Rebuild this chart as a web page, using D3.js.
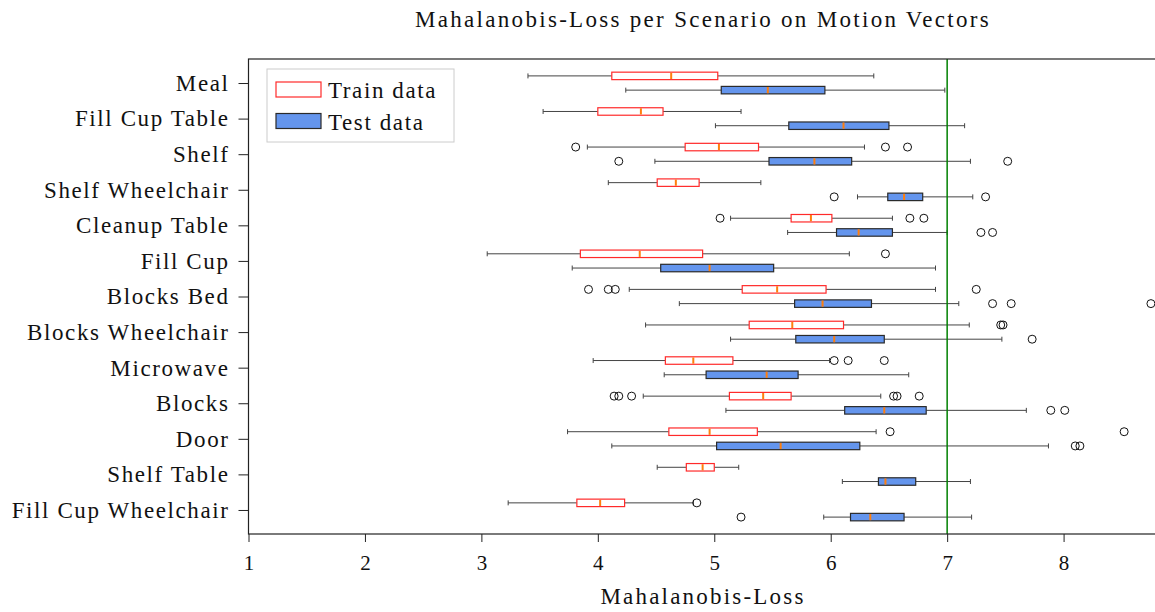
<!DOCTYPE html>
<html lang="en">
<head>
  <meta charset="UTF-8">
  <title>Mahalanobis-Loss per Scenario</title>
  <script src="https://d3js.org/d3.v7.min.js"></script>
  <style>
    body {
      margin: 0;
      background: #ffffff;
    }
    svg text {
      font-family: "Liberation Serif", "DejaVu Serif", serif;
      fill: #111;
    }
  </style>
</head>
<body>
  <div id="chart"></div>

  <script>
    const categories = ["Meal", "Fill Cup Table", "Shelf", "Shelf Wheelchair", "Cleanup Table", "Fill Cup",
      "Blocks Bed", "Blocks Wheelchair", "Microwave", "Blocks", "Door", "Shelf Table", "Fill Cup Wheelchair"];

    // [lower whisker, q1, median, q3, upper whisker]
    const trainStats = [
      [3.40, 4.12, 4.63, 5.03, 6.37],
      [3.53, 4.00, 4.37, 4.56, 5.23],
      [3.91, 4.75, 5.04, 5.38, 6.29],
      [4.09, 4.51, 4.67, 4.87, 5.40],
      [5.14, 5.66, 5.83, 6.01, 6.53],
      [3.05, 3.85, 4.36, 4.90, 6.16],
      [4.27, 5.24, 5.54, 5.96, 6.90],
      [4.41, 5.30, 5.67, 6.11, 7.19],
      [3.96, 4.58, 4.82, 5.16, 5.99],
      [4.39, 5.13, 5.42, 5.66, 6.43],
      [3.74, 4.61, 4.96, 5.37, 6.39],
      [4.51, 4.76, 4.90, 5.00, 5.21],
      [3.23, 3.82, 4.02, 4.23, 4.82]
    ];
    const trainOutliers = [
      [],
      [],
      [3.81, 6.47, 6.66],
      [],
      [5.05, 6.68, 6.80],
      [6.47],
      [3.92, 4.09, 4.15, 7.25],
      [7.46, 7.48],
      [6.03, 6.15, 6.46],
      [4.14, 4.18, 4.29, 6.54, 6.57, 6.76],
      [6.51, 8.52],
      [],
      [4.85]
    ];

    const testStats = [
      [4.24, 5.06, 5.46, 5.95, 6.98],
      [5.01, 5.64, 6.11, 6.50, 7.15],
      [4.49, 5.47, 5.86, 6.18, 7.20],
      [6.23, 6.49, 6.63, 6.79, 7.22],
      [5.63, 6.05, 6.24, 6.53, 7.00],
      [3.78, 4.54, 4.96, 5.51, 6.90],
      [4.70, 5.69, 5.93, 6.35, 7.10],
      [5.14, 5.70, 6.03, 6.46, 7.47],
      [4.57, 4.93, 5.45, 5.72, 6.67],
      [5.10, 6.12, 6.46, 6.82, 7.68],
      [4.12, 5.02, 5.57, 6.25, 7.87],
      [6.10, 6.41, 6.47, 6.73, 7.20],
      [5.94, 6.17, 6.34, 6.63, 7.21]
    ];
    const testOutliers = [
      [],
      [],
      [4.18, 7.52],
      [6.03, 7.33],
      [7.29, 7.39],
      [],
      [7.39, 7.55, 8.75],
      [7.73],
      [],
      [7.89, 8.01],
      [8.10, 8.14],
      [],
      [5.23]
    ];

    const xTicks = [1, 2, 3, 4, 5, 6, 7, 8];
    const thresholdValue = 7;

    const width = 1155, height = 612;
    const margin = { top: 59, right: 0, bottom: 78, left: 248.5 };

    const svg = d3.select("#chart")
      .append("svg")
      .attr("width", width)
      .attr("height", height);

    const x = d3.scaleLinear()
      .domain([1, 8.785])
      .range([margin.left, width - margin.right]);

    const y = d3.scaleLinear()
      .domain([-0.675, categories.length - 1 + 0.675])
      .range([margin.top, height - margin.bottom]);

    svg.append("defs").append("clipPath")
      .attr("id", "plot-clip")
      .append("rect")
      .attr("x", margin.left)
      .attr("y", margin.top)
      .attr("width", width - margin.left)
      .attr("height", height - margin.bottom - margin.top);

    const plot = svg.append("g").attr("clip-path", "url(#plot-clip)");

    const boxH = y(0.21) - y(0);
    const capH = y(0.14) - y(0);

    function drawBoxes(stats, outliers, offset, cls) {
      const g = plot.append("g").attr("class", cls);
      const groups = g.selectAll("g.box")
        .data(stats.map((s, i) => ({ s, i, out: outliers[i] })))
        .enter()
        .append("g")
        .attr("class", "box")
        .attr("transform", d => `translate(0,${y(d.i + offset)})`);

      // whiskers
      groups.append("line")
        .attr("x1", d => x(d.s[0])).attr("x2", d => x(d.s[1]))
        .attr("stroke", "#444").attr("stroke-width", 1);
      groups.append("line")
        .attr("x1", d => x(d.s[3])).attr("x2", d => x(d.s[4]))
        .attr("stroke", "#444").attr("stroke-width", 1);
      groups.append("line")
        .attr("x1", d => x(d.s[0])).attr("x2", d => x(d.s[0]))
        .attr("y1", -capH / 2).attr("y2", capH / 2)
        .attr("stroke", "#444").attr("stroke-width", 1);
      groups.append("line")
        .attr("x1", d => x(d.s[4])).attr("x2", d => x(d.s[4]))
        .attr("y1", -capH / 2).attr("y2", capH / 2)
        .attr("stroke", "#444").attr("stroke-width", 1);

      // box
      groups.append("rect")
        .attr("x", d => x(d.s[1]))
        .attr("y", -boxH / 2)
        .attr("width", d => x(d.s[3]) - x(d.s[1]))
        .attr("height", boxH)
        .attr("fill", cls === "train" ? "#ffffff" : "#6495ed")
        .attr("stroke", cls === "train" ? "#ff2a2a" : "#2a2a2a")
        .attr("stroke-width", 1.2);

      // median
      groups.append("line")
        .attr("x1", d => x(d.s[2])).attr("x2", d => x(d.s[2]))
        .attr("y1", -boxH / 2 + 0.6).attr("y2", boxH / 2 - 0.6)
        .attr("stroke", "#ff7f0e").attr("stroke-width", 2);

      // fliers
      groups.selectAll("circle")
        .data(d => d.out)
        .enter()
        .append("circle")
        .attr("cx", v => x(v))
        .attr("cy", 0)
        .attr("r", 4)
        .attr("fill", "none")
        .attr("stroke", "#111")
        .attr("stroke-width", 1);
    }

    drawBoxes(trainStats, trainOutliers, -0.2, "train");
    drawBoxes(testStats, testOutliers, 0.2, "test");

    // threshold line
    plot.append("line")
      .attr("x1", x(thresholdValue)).attr("x2", x(thresholdValue))
      .attr("y1", margin.top).attr("y2", height - margin.bottom)
      .attr("stroke", "#008000")
      .attr("stroke-width", 1.5);

    // frame
    svg.append("rect")
      .attr("x", margin.left)
      .attr("y", margin.top)
      .attr("width", width + 10 - margin.left)
      .attr("height", height - margin.bottom - margin.top)
      .attr("fill", "none")
      .attr("stroke", "#222")
      .attr("stroke-width", 1.2);

    // x axis
    const xAxis = svg.append("g")
      .attr("transform", `translate(0,${height - margin.bottom})`)
      .call(d3.axisBottom(x).tickValues(xTicks).tickSize(8).tickFormat(d3.format("d")));
    xAxis.select(".domain").remove();
    xAxis.selectAll("line").attr("stroke", "#222");
    xAxis.selectAll("text")
      .attr("dy", "1.2em")
      .style("font-family", "'Liberation Serif', serif")
      .style("font-size", "21px")
      .attr("fill", "#111");

    // y axis
    const yAxis = svg.append("g")
      .attr("transform", `translate(${margin.left},0)`)
      .call(d3.axisLeft(y).tickValues(d3.range(categories.length)).tickSize(10).tickPadding(9)
        .tickFormat(i => categories[i]));
    yAxis.select(".domain").remove();
    yAxis.selectAll("line").attr("stroke", "#222");
    yAxis.selectAll("text")
      .style("font-family", "'Liberation Serif', serif")
      .style("font-size", "23px")
      .style("letter-spacing", "1.6px")
      .attr("fill", "#111");

    // title and axis label
    svg.append("text")
      .attr("x", 703)
      .attr("y", 27)
      .attr("text-anchor", "middle")
      .style("font-size", "23px")
      .style("letter-spacing", "2.3px")
      .text("Mahalanobis-Loss per Scenario on Motion Vectors");

    svg.append("text")
      .attr("x", 703)
      .attr("y", 604)
      .attr("text-anchor", "middle")
      .style("font-size", "23px")
      .style("letter-spacing", "2.2px")
      .text("Mahalanobis-Loss");

    // legend
    const legend = svg.append("g").attr("transform", "translate(267,69)");
    legend.append("rect")
      .attr("width", 187).attr("height", 73)
      .attr("fill", "#fff").attr("stroke", "#cccccc").attr("stroke-width", 1);
    const legendItems = [
      { label: "Train data", fill: "#ffffff", stroke: "#ff2a2a" },
      { label: "Test data", fill: "#6495ed", stroke: "#2a2a2a" }
    ];
    const li = legend.selectAll("g.item")
      .data(legendItems)
      .enter()
      .append("g")
      .attr("class", "item")
      .attr("transform", (d, i) => `translate(9,${13 + i * 31.5})`);
    li.append("rect")
      .attr("width", 45).attr("height", 15)
      .attr("fill", d => d.fill).attr("stroke", d => d.stroke).attr("stroke-width", 1.2);
    li.append("text")
      .attr("x", 52).attr("y", 16)
      .style("font-size", "23px")
      .style("letter-spacing", "1.6px")
      .text(d => d.label);
  </script>
</body>
</html>
